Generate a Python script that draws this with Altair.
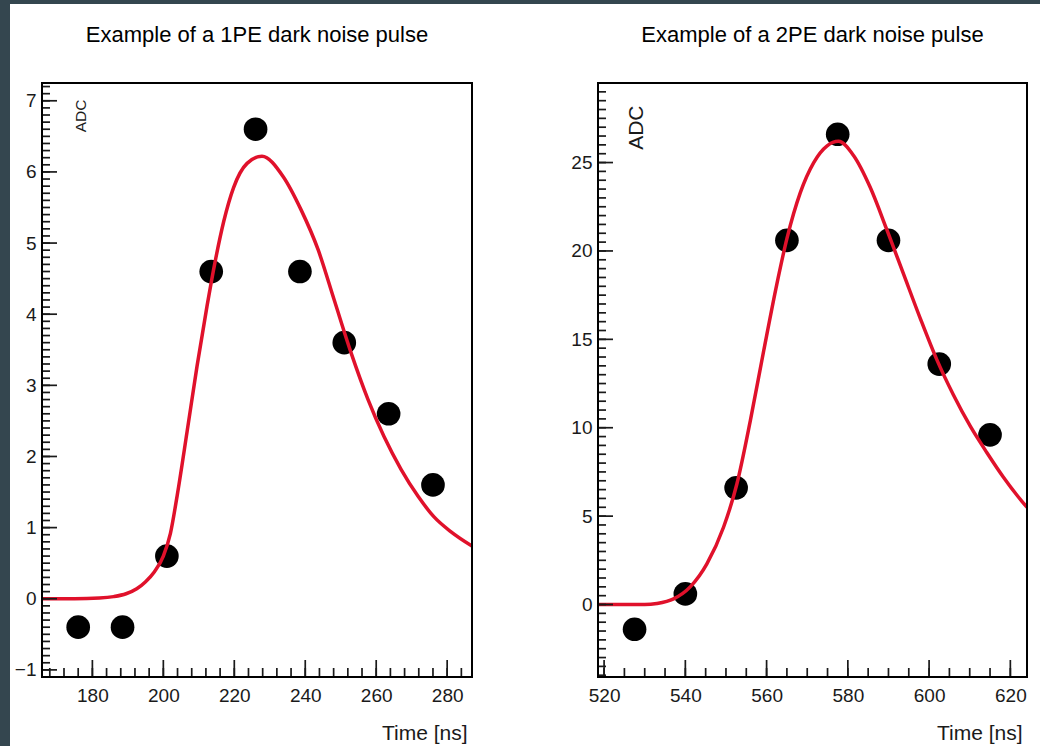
import altair as alt
import pandas as pd

FONT = "Liberation Sans"
RED = "#e0112b"
INK = "#1a1a1a"
EDGE = "#34464f"

# ---- 1PE pulse: sampled ADC values and fitted pulse shape ----
pe1_time = [176.0, 188.5, 201.0, 213.5, 226.0, 238.5, 251.0, 263.5, 276.0]
pe1_adc = [-0.4, -0.4, 0.6, 4.6, 6.6, 4.6, 3.6, 2.6, 1.6]
pe1_fit_time = [165.8, 175.0, 182.0, 186.0, 189.5, 192.5, 195.0, 197.5, 200.0,
                202.0, 203.9, 206.7, 209.5, 212.3, 214.6, 217.0, 219.8, 223.6,
                227.8, 233.7, 238.8, 243.6, 248.1, 252.9, 257.7, 262.2, 267.0,
                271.8, 276.3, 281.1, 287.0]
pe1_fit_adc = [0.0, 0.0, 0.01, 0.03, 0.07, 0.14, 0.24, 0.38, 0.60,
               0.92, 1.45, 2.35, 3.27, 4.11, 4.74, 5.30, 5.78, 6.12,
               6.22, 5.94, 5.47, 4.91, 4.21, 3.46, 2.80, 2.28, 1.82,
               1.44, 1.15, 0.94, 0.74]
pe1_xdomain = [165.8, 287.0]
pe1_ydomain = [-1.1, 7.25]
pe1_xticks = [180, 200, 220, 240, 260, 280]
pe1_yticks = [-1, 0, 1, 2, 3, 4, 5, 6, 7]

# ---- 2PE pulse ----
pe2_time = [527.5, 540.0, 552.5, 565.0, 577.5, 590.0, 602.5, 615.0]
pe2_adc = [-1.4, 0.6, 6.6, 20.6, 26.6, 20.6, 13.6, 9.6]
pe2_fit_time = [518.5, 530.0, 533.0, 537.1, 541.2, 545.3, 549.4, 552.7, 556.0,
                559.3, 562.5, 565.0, 568.3, 571.6, 574.9, 577.7, 581.4, 585.5,
                589.6, 593.7, 597.8, 601.9, 606.0, 610.1, 614.2, 618.3, 622.8,
                624.1]
pe2_fit_adc = [0.0, 0.0, 0.06, 0.32, 1.0, 2.3, 4.37, 6.83, 10.4,
               14.37, 18.1, 20.7, 23.3, 25.0, 25.95, 26.2, 25.4, 23.6,
               21.2, 18.7, 16.2, 13.85, 11.85, 10.1, 8.6, 7.2, 5.85,
               5.5]
pe2_xdomain = [518.5, 624.1]
pe2_ydomain = [-4.1, 29.5]
pe2_xticks = [520, 540, 560, 580, 600, 620]
pe2_yticks = [0, 5, 10, 15, 20, 25]

W1, W2, H = 430, 429, 594
GAP = 126
LEFT_MARGIN, TOP_MARGIN = 42, 83


def one_row():
    return alt.Data(values=[{"k": 0}])


def tick_rules(axis, scale, guide, start, stop, step, length):
    """Inward-pointing tick marks placed through the panel's own scale."""
    seq = alt.sequence(start, stop + step / 2, step, as_="v")
    base = alt.Chart(seq).mark_rule(color=INK, strokeWidth=1.7)
    if axis == "y":
        return base.encode(
            y=alt.Y("v:Q", scale=scale, axis=guide),
            x=alt.value(0),
            x2=alt.value(length),
        )
    return base.encode(
        x=alt.X("v:Q", scale=scale, axis=guide),
        y=alt.value(H),
        y2=alt.value(H - length),
    )


def panel(title, t, adc, ft, fa, xdom, ydom, xticks, yticks,
          xminor, yminor, adc_size, adc_top, width, edge=False):
    xs = alt.Scale(domain=xdom, nice=False, zero=False)
    ys = alt.Scale(domain=ydom, nice=False, zero=False)

    # the same guide objects go on every layer so the shared axes merge cleanly
    xaxis = alt.Axis(
        values=xticks, ticks=False, domain=False, grid=False,
        labelFont=FONT, labelFontSize=19, labelColor=INK, labelPadding=9,
        labelFlush=False,
        title="Time [ns]", titleFont=FONT, titleFontSize=21,
        titleFontWeight="normal", titleColor=INK, titleAlign="right",
        titleBaseline="alphabetic", titleX=width - 5, titleY=62,
    )
    yaxis = alt.Axis(
        values=yticks, ticks=False, domain=False, grid=False,
        labelFont=FONT, labelFontSize=19, labelColor=INK, labelPadding=6,
        labelFlush=False,
        title="ADC", titleFont=FONT, titleFontSize=adc_size,
        titleFontWeight="normal", titleColor=INK, titleAngle=270,
        titleAlign="right", titleBaseline="middle", titleX=38,
        titleY=adc_top,
    )

    pts = pd.DataFrame({"t": t, "adc": adc})
    fit = pd.DataFrame({"t": ft, "adc": fa})

    points = alt.Chart(pts).mark_circle(size=560, color="black", opacity=1).encode(
        x=alt.X("t:Q", scale=xs, axis=xaxis),
        y=alt.Y("adc:Q", scale=ys, axis=yaxis),
    )
    curve = alt.Chart(fit).mark_line(
        color=RED, strokeWidth=3.5, interpolate="monotone", clip=True
    ).encode(
        x=alt.X("t:Q", scale=xs, axis=xaxis),
        y=alt.Y("adc:Q", scale=ys, axis=yaxis),
    )

    ymaj = tick_rules("y", ys, yaxis, yticks[0], yticks[-1], yticks[1] - yticks[0], 15)
    ymin = tick_rules("y", ys, yaxis, yminor[0], yminor[1], yminor[2], 8)
    xmaj = tick_rules("x", xs, xaxis, xticks[0], xticks[-1], xticks[1] - xticks[0], 17)
    xmin = tick_rules("x", xs, xaxis, xminor[0], xminor[1], xminor[2], 9)

    frame = alt.Chart(one_row()).mark_rect(
        filled=False, color="black", strokeWidth=2
    ).encode(x=alt.value(0), x2=alt.value(width), y=alt.value(0), y2=alt.value(H))

    heading = alt.Chart(one_row()).mark_text(
        font=FONT, fontSize=22, color="black", align="center",
        baseline="alphabetic",
    ).encode(x=alt.value(width / 2), y=alt.value(-41), text=alt.value(title))

    layers = [points, curve, ymaj, ymin, xmaj, xmin, frame, heading]
    if edge:
        # dark edge along the left and top of the page
        side = alt.Chart(one_row()).mark_rect(color=EDGE).encode(
            x=alt.value(-LEFT_MARGIN), x2=alt.value(10 - LEFT_MARGIN),
            y=alt.value(-TOP_MARGIN), y2=alt.value(746 - TOP_MARGIN),
        )
        top = alt.Chart(one_row()).mark_rect(color=EDGE).encode(
            x=alt.value(-LEFT_MARGIN), x2=alt.value(1040 - LEFT_MARGIN),
            y=alt.value(-TOP_MARGIN), y2=alt.value(4 - TOP_MARGIN),
        )
        layers = [side, top] + layers

    return alt.layer(*layers).properties(width=width, height=H)


left = panel("Example of a 1PE dark noise pulse", pe1_time, pe1_adc,
             pe1_fit_time, pe1_fit_adc, pe1_xdomain, pe1_ydomain,
             pe1_xticks, pe1_yticks, (168, 284, 4), (-1.0, 7.2, 0.1),
             15.5, 16, W1, edge=True)
right = panel("Example of a 2PE dark noise pulse", pe2_time, pe2_adc,
              pe2_fit_time, pe2_fit_adc, pe2_xdomain, pe2_ydomain,
              pe2_xticks, pe2_yticks, (520, 620, 5), (-4.0, 29.5, 0.5),
              21, 22, W2)

chart = alt.hconcat(left, right, spacing=GAP, bounds="flush").properties(
    padding={"left": 0, "top": 0, "right": 0, "bottom": 0},
    background="white",
).configure_view(strokeWidth=0)

chart.save("out.html", embed_options={"renderer": "svg", "actions": False})
